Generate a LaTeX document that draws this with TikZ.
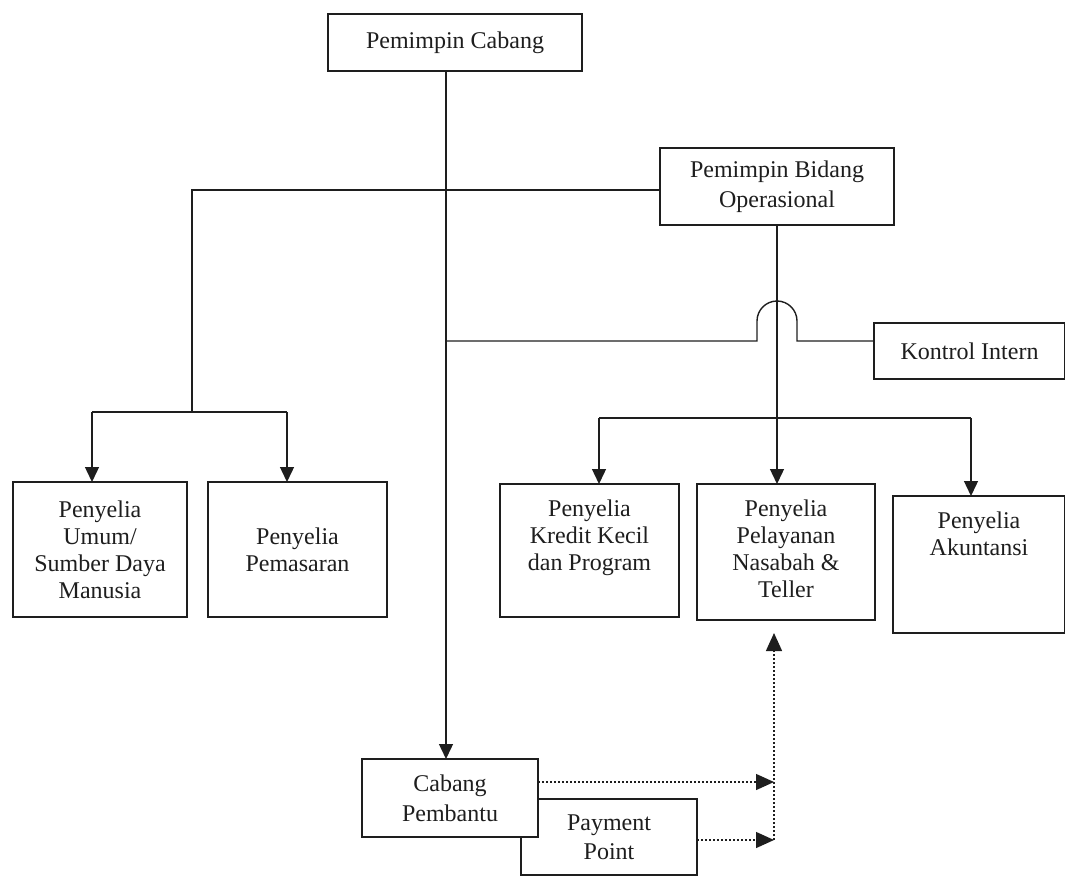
\documentclass[tikz,border=0pt]{standalone}
\usepackage{fontspec}
\setmainfont{Liberation Serif}
\usetikzlibrary{arrows.meta}
\definecolor{ink}{RGB}{30,30,30}
\begin{document}
\begin{tikzpicture}[x=1pt,y=-1pt,
  box/.style={draw=ink, fill=white, line width=1.6pt, inner sep=0pt, outer sep=0pt,
    align=center, text=ink, font=\fontsize{24}{27}\selectfont},
  txt/.style={inner sep=0pt, align=center, text=ink, font=\fontsize{24}{27}\selectfont},
  conn/.style={draw=ink, line width=1.4pt},
  arr/.style={conn, -{Triangle[length=15pt,width=14pt]}},
  darr/.style={draw=ink, line width=1.4pt, dash pattern=on 2pt off 2pt,
    -{Triangle[length=18pt,width=16pt]}}]
\useasboundingbox (0,0) rectangle (1065,877);

% boxes
\node[box, minimum width=254pt, minimum height=57pt] (pc) at (455,42.5) {Pemimpin Cabang};
\node[box, minimum width=234pt, minimum height=77pt, font=\fontsize{24}{30}\selectfont] (pb) at (777,186.5) {Pemimpin Bidang\\Operasional};
\node[box, minimum width=191pt, minimum height=56pt] (ki) at (969.5,351) {Kontrol Intern};
\node[box, minimum width=174pt, minimum height=135pt] (sdm) at (100,549.5) {Penyelia\\Umum/\\Sumber Daya\\Manusia};
\node[box, minimum width=179pt, minimum height=135pt] (pem) at (297.5,549.5) {Penyelia\\Pemasaran};
\node[box, minimum width=179pt, minimum height=133pt] (kk) at (589.5,550.5) {};
\node[txt, anchor=north] (kkt) at ([yshift=-15.5pt]kk.north) {Penyelia\\Kredit Kecil\\dan Program};
\node[box, minimum width=178pt, minimum height=136pt] (pn) at (786,552) {};
\node[txt, anchor=north] (pnt) at ([yshift=-15.5pt]pn.north) {Penyelia\\Pelayanan\\Nasabah \&\\Teller};
\node[box, minimum width=172pt, minimum height=137pt] (ak) at (979,564.5) {};
\node[txt, anchor=north] (akt) at ([yshift=-15.5pt]ak.north) {Penyelia\\Akuntansi};
\node[box, minimum width=176pt, minimum height=76pt, font=\fontsize{24}{29}\selectfont] (pp) at (609,837) {Payment\\Point};
\node[box, minimum width=176pt, minimum height=78pt, font=\fontsize{24}{30}\selectfont] (cp) at (450,798) {Cabang\\Pembantu};

% helper coordinates
\coordinate (mx) at (446,0);
\coordinate (lj) at (192,190);
\coordinate (lb) at (192,412);
\coordinate (la) at (92,412);
\coordinate (lc) at (287,412);
\coordinate (ra) at (599,418);
\coordinate (rc) at (971,418);
\coordinate (hk) at (0,341);
\coordinate (dv) at (774,0);
\coordinate (d1) at (0,782);
\coordinate (d2) at (0,840);
\coordinate (dt) at (774,633);

% main vertical
\draw[arr] (pc.south -| mx) -- (cp.north -| mx);

% left branch
\draw[conn] (pb.west |- lj) -- (lj) -- (lb);
\draw[conn] (la) -- (lc);
\draw[arr] (la) -- (la |- sdm.north);
\draw[arr] (lc) -- (lc |- pem.north);

% right branch
\draw[arr] (pb.south) -- (pb.south |- pn.north);
\draw[conn] (ra) -- (rc);
\draw[arr] (ra) -- (ra |- kk.north);
\draw[arr] (rc) -- (rc |- ak.north);

% kontrol intern line with bump
\draw[conn] (mx |- hk) -- (757,341) -- (757,321)
  .. controls (757,310) and (766,301) .. (777,301)
  .. controls (788,301) and (797,310) .. (797,321)
  -- (797,341) -- (ki.west |- hk);

% dotted arrows
\draw[darr] (cp.east |- d1) -- (dv |- d1);
\draw[darr] (pp.east |- d2) -- (dv |- d2);
\draw[darr] (dv |- d2) -- (dt);
\end{tikzpicture}
\end{document}
